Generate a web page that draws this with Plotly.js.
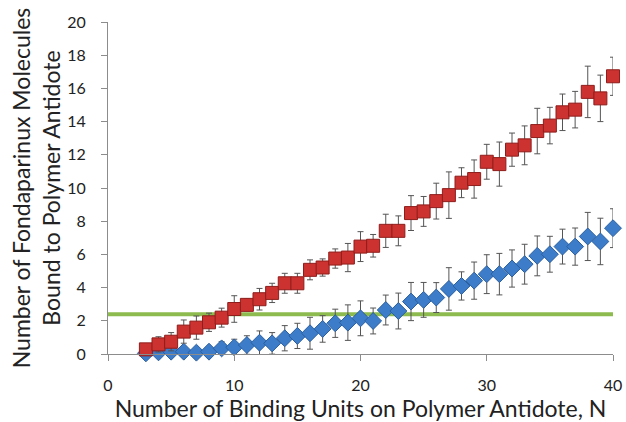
<!DOCTYPE html>
<html>
<head>
<meta charset="utf-8">
<script src="https://cdn.plot.ly/plotly-3.0.1.min.js"></script>
<style>html,body{margin:0;padding:0;background:#fff;}#chart{width:626px;height:422px;}</style>
</head>
<body>
<div id="chart"></div>
<script>
const bindingUnits = [3,4,5,6,7,8,9,10,11,12,13,14,15,16,17,18,19,20,21,22,23,24,25,26,27,28,29,30,31,32,33,34,35,36,37,38,39,40];
const redValues = [0.28,0.58,0.74,1.35,1.59,1.91,2.19,2.71,2.96,3.30,3.68,4.26,4.26,5.07,5.21,5.75,5.81,6.47,6.52,7.42,7.42,8.49,8.59,9.21,9.57,10.32,10.54,11.58,11.44,12.31,12.57,13.43,13.76,14.56,14.72,15.79,15.40,16.73];
const redErrors = [0.3,0.46,0.55,0.7,0.7,0.55,0.57,0.8,0.36,0.65,0.58,0.6,0.6,0.6,0.52,0.58,0.85,0.9,0.68,1.0,0.9,1.05,0.9,1.08,1.4,0.9,1.15,1.05,1.33,1.0,1.17,1.37,1.1,1.1,1.1,1.55,1.4,1.15];
const blueValues = [0.04,0.10,0.14,0.14,0.08,0.14,0.34,0.40,0.54,0.68,0.64,0.95,1.09,1.25,1.51,1.85,1.89,2.15,1.99,2.65,2.59,3.16,3.26,3.40,3.92,4.10,4.42,4.81,4.81,5.15,5.41,5.91,6.01,6.47,6.47,7.08,6.78,7.58];
const blueErrors = [0.05,0.1,0.1,0.1,0.1,0.2,0.4,0.49,0.56,0.71,0.65,0.76,0.76,0.96,0.8,0.85,1.07,1.05,0.78,0.9,1.08,1.15,1.05,0.9,1.28,0.85,1.12,1.17,1.25,1.12,1.2,1.2,1.08,1.05,1.12,1.45,1.4,1.17];
const thresholdX = [0, 40];
const thresholdY = [2.4, 2.4];
const xTicks = [0,10,20,30,40];
const yTicks = [0,2,4,6,8,10,12,14,16,18,20];

const font = "Lato, 'Open Sans', sans-serif";
const errStyle = {type:'data', visible:true, color:'#555555', thickness:1, width:3};

const traces = [
  {x: thresholdX, y: thresholdY, mode:'lines', cliponaxis:false, line:{color:'#8dbb4f', width:4}, hoverinfo:'skip'},
  {x: bindingUnits, y: blueValues, mode:'markers', cliponaxis:false,
   error_y: Object.assign({array: blueErrors}, errStyle),
   marker:{symbol:'diamond', size:13, color:'#3d7cc9', line:{color:'#2b5f9e', width:1}}},
  {x: bindingUnits, y: redValues, mode:'markers', cliponaxis:false,
   error_y: Object.assign({array: redErrors}, errStyle),
   marker:{symbol:'square', size:13, color:'#cc3330', line:{color:'#8e1d1b', width:1}}}
];

const layout = {
  width:626, height:422,
  margin:{l:108, r:13, t:22, b:68},
  showlegend:false,
  paper_bgcolor:'#ffffff', plot_bgcolor:'#ffffff',
  font:{family:font, color:'#222222'},
  xaxis:{range:[0,40], tickvals:xTicks, ticktext:xTicks.map(String),
    showgrid:false, zeroline:false, showline:true, linecolor:'#8c8c8c', linewidth:1,
    ticks:'outside', ticklen:6, tickcolor:'#8c8c8c', ticklabelstandoff:11,
    tickfont:{size:16, family:font, color:'#222'},
    title:{text:'Number of Binding Units on Polymer Antidote, N', font:{size:23, family:font, color:'#222'}, standoff:5}},
  yaxis:{range:[0,20], tickvals:yTicks, ticktext:yTicks.map(String),
    showgrid:false, zeroline:false, showline:true, linecolor:'#8c8c8c', linewidth:1,
    ticks:'outside', ticklen:6, tickcolor:'#8c8c8c', ticklabelstandoff:12,
    tickfont:{size:16, family:font, color:'#222'},
    title:{text:'Number of Fondaparinux Molecules<br>Bound to Polymer Antidote', font:{size:23, family:font, color:'#222'}, standoff:0}}
};

Plotly.newPlot('chart', traces, layout, {displayModeBar:false, staticPlot:true});
</script>
</body>
</html>
